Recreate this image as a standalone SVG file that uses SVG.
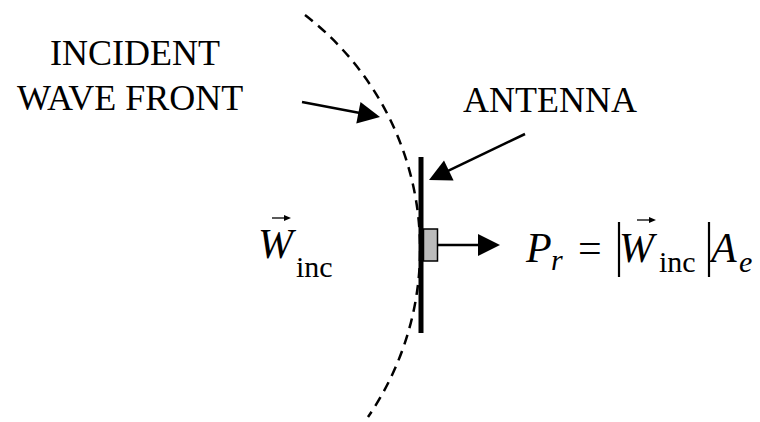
<svg xmlns="http://www.w3.org/2000/svg" width="760" height="422" viewBox="0 0 760 422">
<rect width="760" height="422" fill="#fff"/>
<g id="wavefront">
<path d="M305,15 A296,296 0 0 1 368,417" fill="none" stroke="#000" stroke-width="2.5" stroke-dasharray="10 7"/>
</g>
<g id="antenna">
<rect x="418.5" y="157" width="5" height="176" fill="#000"/>
<rect x="423.5" y="229" width="14" height="32" fill="#bbbbbb" stroke="#000" stroke-width="1.5"/>
</g>
<g id="label-incident">
<text x="50" y="65" font-size="36" font-family="Times New Roman, Liberation Serif, Tinos, serif">INCIDENT</text>
<text x="17" y="110" font-size="36" font-family="Times New Roman, Liberation Serif, Tinos, serif">WAVE FRONT</text>
</g>
<g id="label-antenna">
<text x="463" y="112" font-size="36" font-family="Times New Roman, Liberation Serif, Tinos, serif">ANTENNA</text>
</g>
<g id="label-winc">
<text font-family="Times New Roman, Liberation Serif, Tinos, serif"><tspan font-style="italic" font-size="42" x="258" y="258">W</tspan><tspan font-size="30" x="296" y="277">inc</tspan></text>
<path d="M272,218 L286,218" stroke="#000" stroke-width="1.3" fill="none"/>
<polygon points="284,215 291,218 284,221" fill="#000"/>
</g>
<g id="label-formula">
<text font-family="Times New Roman, Liberation Serif, Tinos, serif"><tspan font-style="italic" font-size="42" x="526" y="262">P</tspan><tspan font-style="italic" font-size="30" x="551" y="270">r</tspan><tspan font-size="42" x="578" y="262">=</tspan><tspan font-style="italic" font-size="42" x="619" y="262">W</tspan><tspan font-size="30" x="659" y="272">inc</tspan><tspan font-style="italic" font-size="42" x="711" y="262">A</tspan><tspan font-style="italic" font-size="30" x="739" y="272">e</tspan></text>
<line x1="619" y1="222" x2="619" y2="277" stroke="#000" stroke-width="2.2"/>
<line x1="709" y1="222" x2="709" y2="277" stroke="#000" stroke-width="2.2"/>
<path d="M637,220 L651,220" stroke="#000" stroke-width="1.3" fill="none"/>
<polygon points="649,217 656,220 649,223" fill="#000"/>
</g>
<g id="connectors">
<path d="M302,102 L360,113.1" stroke="#000" stroke-width="2.5" fill="none"/>
<polygon points="380,117 360.5,102 356.3,123.6" fill="#000"/>
<path d="M525,134 L447,171.4" stroke="#000" stroke-width="2.5" fill="none"/>
<polygon points="429,180 444,160.6 453.6,180.4" fill="#000"/>
<path d="M437.5,245 L480,245" stroke="#000" stroke-width="2.5" fill="none"/>
<polygon points="500,245 478,234 478,256" fill="#000"/>
</g>
</svg>
